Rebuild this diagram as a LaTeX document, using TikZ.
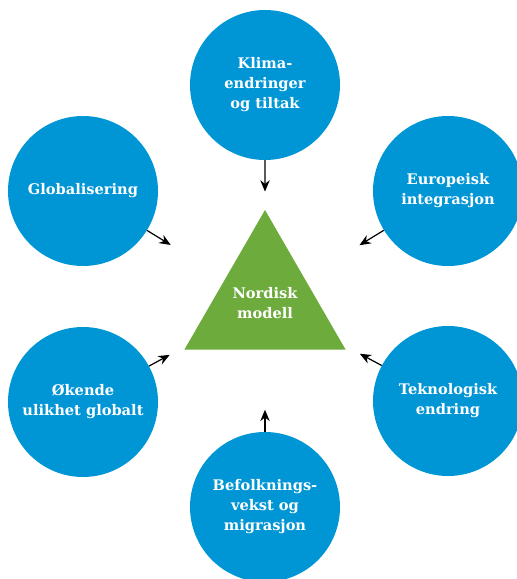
\documentclass[tikz,border=0pt]{standalone}
\usepackage{fontspec}
\setmainfont{DejaVu Serif}
\usetikzlibrary{arrows.meta,shapes.geometric}
\definecolor{nordblue}{HTML}{0096D6}
\definecolor{nordgreen}{HTML}{6DAB3C}

\begin{document}
\begin{tikzpicture}[
  x=1pt,y=-1pt,
  font=\bfseries\fontsize{14.6}{20}\selectfont,
  driver/.style={circle,fill=nordblue,text=white,minimum size=150pt,inner sep=0pt,align=center},
  core/.style={regular polygon,regular polygon sides=3,fill=nordgreen,text=white,minimum size=186pt,inner sep=0pt,align=center},
  fl/.style={-{Stealth[length=4mm,width=3.3mm]},line width=1.2pt,draw=black},
]
\useasboundingbox (0,0) rectangle (517,579);
\node[core] (nordisk) at (265,303) {Nordisk\\modell};
\node[driver] (klima) at (265,85) {Klima-\\endringer\\og tiltak};
\node[driver] (glob) at (83,191) {Globalisering};
\node[driver] (europa) at (448,191) {Europeisk\\integrasjon};
\node[driver] (okende) at (83,402) {Økende\\ulikhet globalt};
\node[driver] (tekno) at (448,401) {Teknologisk\\endring};
\node[driver] (befolk) at (265,507) {Befolknings-\\vekst og\\migrasjon};
\draw[fl,shorten >=18pt] (klima) -- (nordisk);
\draw[fl,shorten >=64pt] (glob) -- (nordisk);
\draw[fl,shorten >=64pt] (europa) -- (nordisk);
\draw[fl,shorten >=19pt] (okende) -- (nordisk);
\draw[fl,shorten >=19pt] (tekno) -- (nordisk);
\draw[fl,shorten >=60pt] (befolk) -- (nordisk);
\end{tikzpicture}
\end{document}
